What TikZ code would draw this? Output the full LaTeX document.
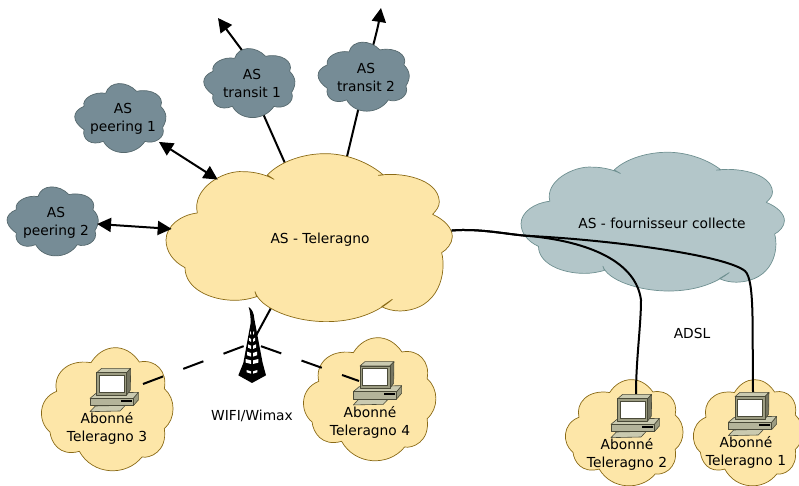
\documentclass[tikz,border=0pt]{standalone}
\usepackage{fontspec}
\setmainfont{DejaVu Sans}
\usetikzlibrary{arrows.meta,shapes.geometric}
\definecolor{sand}{HTML}{FDE6A8}
\definecolor{sandedge}{HTML}{8A6A16}
\definecolor{slate}{HTML}{768C96}
\definecolor{slateedge}{HTML}{56696E}
\definecolor{pale}{HTML}{B3C6C9}
\definecolor{paleedge}{HTML}{6F9091}
\definecolor{pcfront}{HTML}{9C9C82}
\definecolor{pcbase}{HTML}{B4B49A}
\definecolor{pclight}{HTML}{CACAB0}
\definecolor{pcedge}{HTML}{4A4A38}
\pgfdeclarelayer{behind}
\pgfdeclarelayer{clouds}
\pgfsetlayers{behind,clouds,main}
% all cloud outlines are in thirds of a pixel
\newcommand\bigcloud[3]{\begin{scope}[shift={(#1,#2)},x=.3333pt,y=-.3333pt,#3]
\path[cloudline] (112,204) .. controls (95,130) and (190,75) .. (250,80) .. controls (285,80) and (320,90) .. (342,103)
 -- (322,90) .. controls (360,50) and (430,25) .. (500,26) .. controls (565,27) and (630,55) .. (670,90)
 -- (655,91) .. controls (720,80) and (835,100) .. (838,170) .. controls (838,185) and (830,195) .. (818,208)
 .. controls (855,225) and (877,250) .. (877,275) .. controls (877,295) and (860,315) .. (845,323)
 .. controls (860,380) and (840,495) .. (720,498) .. controls (700,498) and (680,493) .. (665,485)
 -- (697,463) .. controls (650,505) and (580,530) .. (500,530) .. controls (400,530) and (300,490) .. (285,440)
 -- (290,455) .. controls (265,463) and (245,466) .. (225,466) .. controls (150,466) and (75,430) .. (75,368)
 .. controls (40,350) and (18,320) .. (18,285) .. controls (18,245) and (60,210) .. (112,204) -- cycle;
\end{scope}}
\newcommand\smallcloud[2]{\begin{scope}[shift={(#1,#2)},x=.3333pt,y=-.3333pt]
\path[cloudline] (42,85) .. controls (35,60) and (75,40) .. (107,46)
 .. controls (118,8) and (170,8) .. (200,40)
 .. controls (245,30) and (285,55) .. (272,85)
 .. controls (292,105) and (292,125) .. (278,148)
 .. controls (290,180) and (250,200) .. (225,190)
 .. controls (195,235) and (125,235) .. (100,190)
 .. controls (65,205) and (35,185) .. (42,155)
 .. controls (5,130) and (5,100) .. (42,85) -- cycle;
\end{scope}}
\newcommand\homecloud[3]{\begin{scope}[shift={(#1,#2)},x=.3333pt,y=-.3333pt,#3]
\path[cloudline] (62,148) .. controls (50,100) and (90,50) .. (165,62)
 .. controls (200,5) and (270,0) .. (310,60)
 .. controls (360,50) and (395,90) .. (385,140)
 .. controls (420,170) and (420,230) .. (385,260)
 .. controls (395,330) and (340,350) .. (318,345)
 .. controls (270,405) and (170,400) .. (130,328)
 .. controls (70,345) and (45,300) .. (42,270)
 .. controls (5,240) and (5,170) .. (62,148) -- cycle;
\end{scope}}
% computer, local units are thirds of a pixel
\newcommand\computer[2]{\begin{scope}[shift={(#1,#2)},x=.3333pt,y=-.3333pt,pcline/.style={draw=pcedge,line width=.6pt,line join=round}]
\path[pcline,fill=pclight] (30,155) -- (46,138) -- (136,136) -- (120,153) -- cycle;
\path[pcline,fill=pcfront] (160,115) -- (175,97) -- (175,120) -- (160,137) -- cycle;
\path[pcline,fill=pclight] (30,115) -- (48,100) -- (175,97) -- (160,115) -- cycle;
\path[pcline,fill=pcbase] (30,115) rectangle (160,137);
\fill[black] (122,120) rectangle (156,126);
\path[pcline,fill=pclight] (50,38) -- (65,25) -- (152,25) -- (140,38) -- cycle;
\path[pcline,fill=pcfront!75!black] (140,38) -- (152,25) -- (151,90) -- (140,105) -- cycle;
\path[pcline,fill=pcfront] (50,38) rectangle (140,105);
\path[draw=pcedge,line width=.4pt,fill=white] (58,45) rectangle (133,97);
\end{scope}}
\tikzset{
 x=1pt,y=-1pt,
 cloudline/.style={draw=cloudedge,fill=cloudfill,line width=.7pt,line join=round},
 cloudlabel/.style={shape=ellipse,inner sep=0pt,align=center},
 plainlabel/.style={inner sep=0pt,align=center,font=\fontsize{13.8}{18}\selectfont,text=black},
 wire/.style={line width=2pt,draw=black},
 tiptip/.style={-{Triangle[length=14pt,width=14pt]}},
 bothtip/.style={{Triangle[length=14pt,width=14pt]}-{Triangle[length=14pt,width=14pt]}},
 radio/.style={wire,dash pattern=on 21.5pt off 21.5pt},
}
\colorlet{cloudfill}{sand}
\colorlet{cloudedge}{sandedge}
\begin{document}
\begin{tikzpicture}
\useasboundingbox (0,0) rectangle (799,486);
% labels and named anchors
\node[cloudlabel,minimum width=286pt,minimum height=169pt] (main) at (309,238) {};
\node[plainlabel] (mainl) at (320,240) {AS - Teleragno};
\node[cloudlabel,minimum width=263pt,minimum height=139pt] (coll) at (652,221) {};
\node[plainlabel] (colll) at (662,223) {AS - fournisseur collecte};
\node[cloudlabel,minimum width=90pt,minimum height=69pt] (p1) at (120,117) {};
\node[plainlabel] (p1l) at (123,119) {AS\\peering 1};
\node[cloudlabel,minimum width=90pt,minimum height=69pt] (p2) at (52,221) {};
\node[plainlabel] (p2l) at (56,223) {AS\\peering 2};
\node[cloudlabel,minimum width=90pt,minimum height=69pt] (t1) at (249,82) {};
\node[plainlabel] (t1l) at (252,83) {AS\\transit 1};
\node[cloudlabel,minimum width=90pt,minimum height=69pt] (t2) at (363,75) {};
\node[plainlabel] (t2l) at (366,77) {AS\\transit 2};
\node[plainlabel] (h3) at (107,428.5) {Abonné\\Teleragno 3};
\node[plainlabel] (h4) at (370,422.5) {Abonné\\Teleragno 4};
\node[plainlabel] (h2) at (627,454.5) {Abonné\\Teleragno 2};
\node[plainlabel] (h1) at (746,452.5) {Abonné\\Teleragno 1};
\node[plainlabel] (wifi) at (252,416) {WIFI/Wimax};
\node[plainlabel] (adsl) at (692,333) {ADSL};
\coordinate (tower) at (252,343);
\coordinate (pc3w) at (143,384);
\coordinate (pc4w) at (359,381);
\coordinate (pc2t) at (636,394);
\coordinate (pc1t) at (753,392);
\coordinate (mt1) at (288,170);
\coordinate (mt2) at (345,165);
\coordinate (t1b) at (250,61);
\coordinate (t2b) at (372,50);
\coordinate (tip1) at (218,18);
\coordinate (tip2) at (381,8);
% connectors under the clouds
\begin{pgfonlayer}{behind}
\draw[wire] (t1.center) -- (mt1);
\draw[wire] (t2l.center) -- (mt2);
\draw[wire] (tower) -- (main.center);
\draw[wire,tiptip] (t1b) -- (tip1);
\draw[wire,tiptip] (t2b) .. controls (375,38) and (378,27) .. (tip2);
\end{pgfonlayer}
% clouds
\begin{pgfonlayer}{clouds}
\bigcloud{160}{145}{}
\homecloud{36}{342}{}
\homecloud{298}{332}{xscale=1.006}
\homecloud{560.5}{374.7}{xscale=.894,yscale=.863}
\homecloud{688.8}{374.7}{xscale=.83,yscale=.863}
\colorlet{cloudfill}{pale}\colorlet{cloudedge}{paleedge}
\bigcloud{515.5}{145.1}{xscale=.92,yscale=.826}
\colorlet{cloudfill}{slate}\colorlet{cloudedge}{slateedge}
\smallcloud{70}{78}
\smallcloud{2.3}{181.3}
\smallcloud{199}{43}
\smallcloud{313.3}{36.6}
\end{pgfonlayer}
% connectors over the clouds
\draw[wire,bothtip,shorten <=5pt,shorten >=-7pt] (p1) -- (main);
\draw[wire,bothtip,shorten >=-5pt] (p2) -- (main);
\draw[wire] (main.3) .. controls (480,228) and (510,235) .. (530,236) .. controls (590,242) and (636,262) .. (641,300) .. controls (641,325) and (636,360) .. (pc2t);
\draw[wire] (main.3) .. controls (480,228) and (510,235) .. (530,236) .. controls (610,240) and (725,255) .. (745,271) .. controls (755,280) and (752,330) .. (pc1t);
\draw[radio] (pc3w) -- (tower);
\draw[radio,dash phase=3.5pt] (pc4w) -- (tower);
% radio mast
\begin{scope}[shift={(230,303)},x=.3333pt,y=-.3333pt]
\fill[black] (56,12) .. controls (66,18) and (72,30) .. (73,48) -- (98,180) -- (108,217) -- (66,240) -- (25,217) -- (40,180) -- (62,60) .. controls (62,40) and (60,25) .. (56,12) -- cycle;
\foreach \yy/\hw/\hh in {88/3/8,108/6/9,128/9/10,150/12/11,172/16/11,205/13/7}{
 \fill[white] (69,\yy) -- (69+\hw,\yy-4) -- (69+\hw,\yy-4+\hh) -- (69,\yy+\hh) -- cycle;
 \fill[white] (63,\yy) -- (63-\hw,\yy-4) -- (63-\hw,\yy-4+\hh) -- (63,\yy+\hh) -- cycle;
}
\end{scope}
% computers
\computer{80}{360}
\computer{343.3}{353.3}
\computer{601}{386}
\computer{718.3}{384}
\end{tikzpicture}
\end{document}
